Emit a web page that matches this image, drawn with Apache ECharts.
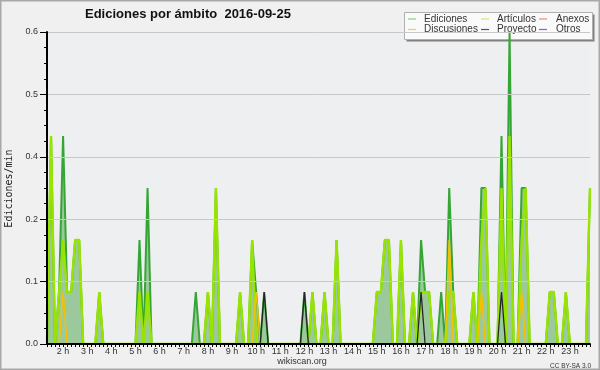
<!DOCTYPE html>
<html><head><meta charset="utf-8">
<script src="https://cdn.jsdelivr.net/npm/echarts@6/dist/echarts.min.js"></script>
<style>html,body{margin:0;padding:0;background:#f0f0f0}#c{width:600px;height:370px}</style>
</head><body><div id="c"></div><script>
const chartTitle = 'Ediciones por ámbito  2016-09-25';
const yAxisTitle = 'Ediciones/min';
const footerLeft = 'wikiscan.org';
const footerRight = 'CC BY-SA 3.0';
const startMinute = 80;   // first slot 1:20
const stepMinutes = 10;   // 10-minute slots
const slotCount = 136;
const seriesNames = ['Ediciones', 'Artículos', 'Anexos', 'Discusiones', 'Proyecto', 'Otros'];
const seriesColors = ['#35a635', '#98e400', '#f08050', '#f2c200', '#262626', '#9040f0'];
const legendColors = ['#8ccf8c', '#c8f060', '#f09060', '#f0d050', '#555555', '#a050f0'];

const ediciones = [
  0,0.4,0,0.1,0.4,0.1,0.1,0.2,0.2,0,
  0,0,0,0.1,0,0,0,0,0,0,
  0,0,0,0.2,0,0.3,0,0,0,0,
  0,0,0,0,0,0,0,0.1,0,0,
  0.1,0,0.3,0,0,0,0,0,0.1,0,
  0,0.2,0.1,0,0.1,0,0,0,0,0,
  0,0,0,0,0.1,0,0.1,0,0,0.1,
  0,0,0.2,0,0,0,0,0,0,0,
  0,0,0.1,0.1,0.2,0.2,0,0,0.2,0,
  0,0.1,0,0.2,0.1,0.1,0,0,0.1,0,
  0.3,0.1,0,0,0,0,0.1,0,0.3,0.3,
  0,0,0,0.4,0,0.6,0,0,0.3,0.3,
  0,0,0,0,0,0.1,0.1,0,0,0.1,
  0,0,0,0,0,0.3
];
const articulos = [
  0,0.4,0,0.1,0.2,0.1,0.1,0.2,0.2,0,
  0,0,0,0.1,0,0,0,0,0,0,
  0,0,0,0.1,0,0.1,0,0,0,0,
  0,0,0,0,0,0,0,0,0,0,
  0.1,0,0.3,0,0,0,0,0,0.1,0,
  0,0.2,0,0,0,0,0,0,0,0,
  0,0,0,0,0,0,0.1,0,0,0.1,
  0,0,0.2,0,0,0,0,0,0,0,
  0,0,0.1,0.1,0.2,0.2,0,0,0.2,0,
  0,0.1,0,0.1,0.1,0.1,0,0,0,0,
  0.1,0.1,0,0,0,0,0.1,0,0.2,0.3,
  0,0,0,0.3,0,0.4,0,0,0.2,0.3,
  0,0,0,0,0,0.1,0.1,0,0,0.1,
  0,0,0,0,0,0.3
];
const anexos = [
  0,0,0,0,0,0,0,0,0,0, 0,0,0,0,0,0,0,0,0,0, 0,0,0,0,0,0,0,0,0,0,
  0,0,0,0,0,0,0,0,0,0, 0,0,0,0,0,0,0,0,0,0, 0,0,0,0,0,0,0,0,0,0,
  0,0,0,0,0,0,0,0,0,0, 0,0,0,0,0,0,0,0,0,0, 0,0,0,0,0,0,0,0,0,0,
  0,0,0,0,0,0,0,0,0,0, 0,0,0,0,0,0,0,0,0,0, 0,0,0,0,0,0,0,0,0,0,
  0,0,0,0,0,0,0,0,0,0, 0,0,0,0,0,0
];
const discusiones = [
  0,0,0,0,0.1,0,0,0,0,0, 0,0,0,0,0,0,0,0,0,0, 0,0,0,0,0,0,0,0,0,0,
  0,0,0,0,0,0,0,0,0,0, 0,0,0,0,0,0,0,0,0,0, 0,0,0.1,0,0,0,0,0,0,0,
  0,0,0,0,0,0,0,0,0,0, 0,0,0,0,0,0,0,0,0,0, 0,0,0,0,0,0,0,0,0,0,
  0,0,0,0,0,0,0,0,0,0, 0.2,0,0,0,0,0,0,0,0.1,0, 0,0,0,0,0,0,0,0,0.1,0,
  0,0,0,0,0,0,0,0,0,0, 0,0,0,0,0,0
];
const proyecto = [
  0,0,0,0,0,0,0,0,0,0, 0,0,0,0,0,0,0,0,0,0, 0,0,0,0,0,0,0,0,0,0,
  0,0,0,0,0,0,0,0,0,0, 0,0,0,0,0,0,0,0,0,0, 0,0,0,0,0.1,0,0,0,0,0,
  0,0,0,0,0.1,0,0,0,0,0, 0,0,0,0,0,0,0,0,0,0, 0,0,0,0,0,0,0,0,0,0,
  0,0,0,0.1,0,0,0,0,0,0, 0,0,0,0,0,0,0,0,0,0, 0,0,0,0.1,0,0,0,0,0,0,
  0,0,0,0,0,0,0,0,0,0, 0,0,0,0,0,0
];
const otros = [
  0,0,0,0,0,0,0,0,0,0, 0,0,0,0,0,0,0,0,0,0, 0,0,0,0,0,0,0,0,0,0,
  0,0,0,0,0,0,0,0,0,0, 0,0,0,0,0,0,0,0,0,0, 0,0,0,0,0,0,0,0,0,0,
  0,0,0,0,0,0,0,0,0,0, 0,0,0,0,0,0,0,0,0,0, 0,0,0,0,0,0,0,0,0,0,
  0,0,0,0,0,0,0,0,0,0, 0,0,0,0,0,0,0,0,0,0, 0,0,0,0,0,0,0,0,0,0,
  0,0,0,0,0,0,0,0,0,0, 0,0,0,0,0,0
];

const slotMinutes = [];
for (let i = 0; i < slotCount; i++) slotMinutes.push(startMinute + i * stepMinutes);
const categories = slotMinutes.map(m => Math.floor(m / 60) + ':' + String(m % 60).padStart(2, '0'));

const FONT = 'Liberation Sans';
const chart = echarts.init(document.getElementById('c'), null, {renderer: 'canvas'});

function lineSeries(name, data, color, width, extra) {
  return Object.assign({
    name, type: 'line', data, symbol: 'none', showSymbol: false,
    lineStyle: {color, width}, itemStyle: {color}, animation: false
  }, extra || {});
}

// legend layout drawn as graphic
const legendCols = [408, 481, 539];
const legendTextCols = [424, 497, 556];
const legendRows = [19, 29.5];
const legendOrder = [[0, 1, 2], [3, 4, 5]];
const legendGraphics = [
  {type: 'rect', shape: {x: 406.5, y: 14.5, width: 188, height: 27}, style: {fill: '#808080'}, silent: true},
  {type: 'rect', shape: {x: 404.5, y: 12.5, width: 188, height: 27}, style: {fill: '#fafafa', stroke: '#b0b0b0', lineWidth: 1}, silent: true}
];
legendOrder.forEach((row, r) => row.forEach((si, c) => {
  legendGraphics.push({type: 'line', shape: {x1: legendCols[c], y1: legendRows[r], x2: legendCols[c] + 8, y2: legendRows[r]},
    style: {stroke: legendColors[si], lineWidth: 1.2}, silent: true});
  legendGraphics.push({type: 'text', x: legendTextCols[c], y: legendRows[r],
    style: {text: seriesNames[si], fill: '#333', font: '10px "' + FONT + '"', textVerticalAlign: 'middle', textAlign: 'left'}, silent: true});
}));

const option = {
  backgroundColor: '#f0f0f0',
  animation: false,
  grid: {left: 47, right: 10, top: 32, bottom: 26, show: true, backgroundColor: '#eeeff1', borderWidth: 0},
  xAxis: {
    type: 'category', data: categories, boundaryGap: false, z: 10,
    axisLine: {lineStyle: {color: '#000', width: 2}},
    axisTick: {show: true, interval: 0, length: 3, lineStyle: {color: '#000'}},
    axisLabel: {
      interval: (idx) => slotMinutes[idx] % 60 === 0,
      formatter: (v, idx) => Math.floor(slotMinutes[idx] / 60) + ' h',
      fontFamily: FONT, fontSize: 9, color: '#333', margin: 3
    },
    splitLine: {show: false}
  },
  yAxis: {
    type: 'value', min: 0, max: 0.6, interval: 0.12, z: 10,
    axisLine: {show: true, lineStyle: {color: '#000', width: 2}},
    axisTick: {show: true, length: 7, lineStyle: {color: '#000'}},
    minorTick: {show: true, splitNumber: 4, length: 3, lineStyle: {color: '#000'}},
    axisLabel: {formatter: v => v.toFixed(1), fontFamily: FONT, fontSize: 9, color: '#333', margin: 9},
    splitLine: {show: true, lineStyle: {color: '#c8c8c8', width: 1}}
  },
  series: [
    lineSeries(seriesNames[2], anexos, seriesColors[2], 1.5),
    lineSeries(seriesNames[5], otros, seriesColors[5], 1.5),
    lineSeries(seriesNames[0], ediciones, seriesColors[0], 2, {areaStyle: {color: '#9cc99c', opacity: 1}}),
    lineSeries(seriesNames[1], articulos, seriesColors[1], 2.4),
    lineSeries(seriesNames[3], discusiones, seriesColors[3], 1.6),
    lineSeries(seriesNames[4], proyecto, seriesColors[4], 1.3)
  ],
  graphic: [
    {type: 'rect', shape: {x: 0.5, y: 0.5, width: 599, height: 369}, style: {fill: 'none', stroke: '#a8a8a8', lineWidth: 2}, silent: true, z: 100},
    {type: 'text', x: 85, y: 14, style: {text: chartTitle, fill: '#111', font: 'bold 13px "' + FONT + '"', textVerticalAlign: 'middle'}, silent: true},
    {type: 'text', x: 9.5, y: 188.5, rotation: Math.PI / 2, style: {text: yAxisTitle, fill: '#222', font: '10px "DejaVu Sans Mono"', textAlign: 'center', textVerticalAlign: 'middle'}, silent: true},
    {type: 'text', x: 302, y: 362, style: {text: footerLeft, fill: '#333', font: '9px "' + FONT + '"', textAlign: 'center', textVerticalAlign: 'middle'}, silent: true},
    {type: 'text', x: 591, y: 366, style: {text: footerRight, fill: '#333', font: '6.5px "' + FONT + '"', textAlign: 'right', textVerticalAlign: 'middle'}, silent: true}
  ].concat(legendGraphics)
};
chart.setOption(option);
</script></body></html>
